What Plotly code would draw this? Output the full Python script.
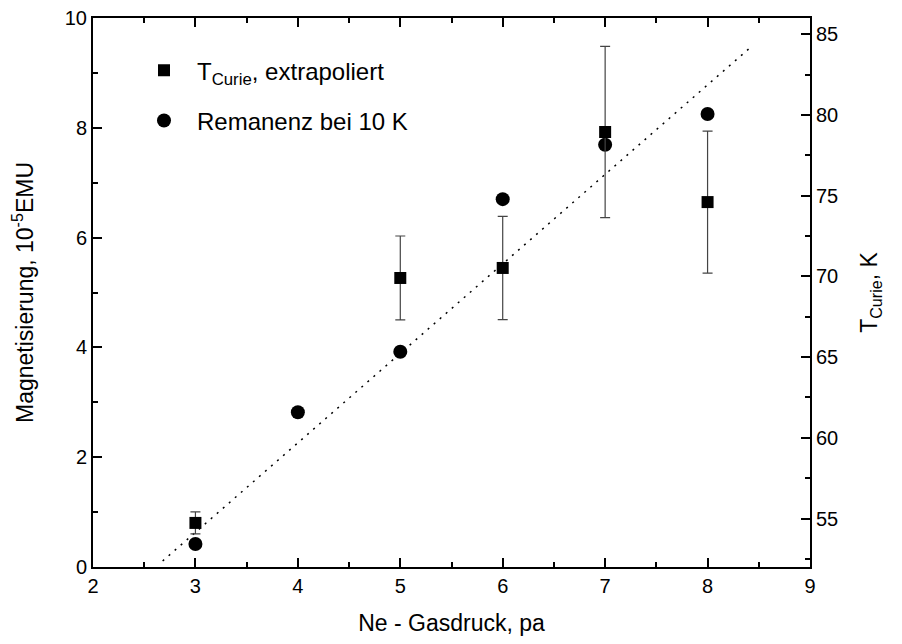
import plotly.graph_objects as go

# Ne-Gasdruck (pa)
druck_rem = [3, 4, 5, 6, 7, 8]
remanenz = [0.42, 2.82, 3.92, 6.70, 7.69, 8.25]  # 10^-5 EMU

druck_tc = [3, 5, 6, 7, 8]
t_curie = [54.73, 69.9, 70.52, 78.94, 74.6]  # K
t_curie_err = [0.68, 2.6, 3.2, 5.3, 4.4]

# Ausgleichsgerade (linke Achse)
fit_x = [2.68, 8.41]
fit_y = [0.11, 9.45]

FONT = "Liberation Sans, Arial, sans-serif"

fig = go.Figure()
fig.add_trace(go.Scatter(
    x=fit_x, y=fit_y, mode="lines",
    line=dict(color="black", width=1.5, dash="2px,6px"),
    showlegend=False, hoverinfo="skip",
))
fig.add_trace(go.Scatter(
    x=druck_tc, y=t_curie, yaxis="y2", mode="markers",
    marker=dict(symbol="square", size=12, color="black"),
    error_y=dict(type="data", array=t_curie_err, color="#444", thickness=1.2, width=5),
    name="T<sub>Curie</sub>, extrapoliert", legendgroup="a",
))
fig.add_trace(go.Scatter(
    x=druck_rem, y=remanenz, mode="markers",
    marker=dict(symbol="circle", size=14, color="black"),
    name="Remanenz bei 10 K", legendgroup="b",
))

axis_common = dict(
    showline=True, linecolor="black", linewidth=2,
    ticks="inside", ticklen=9, tickwidth=2, tickcolor="black",
    showgrid=False, zeroline=False, automargin=False,
    ticklabeloverflow="allow",
    tickfont=dict(size=20, color="black", family=FONT),
)

# die Seite hat 8px Body-Rand, daher 886x628
fig.update_layout(
    width=886, height=628,
    margin=dict(l=85, r=84, t=10, b=69),
    paper_bgcolor="white", plot_bgcolor="white",
    font=dict(family=FONT, color="black", size=20),
    xaxis=dict(
        **axis_common, range=[2, 9], dtick=1, mirror="ticks",
        minor=dict(dtick=0.5, ticks="inside", ticklen=5, tickwidth=2, tickcolor="black"),
        title=dict(text="Ne - Gasdruck, pa", font=dict(size=23), standoff=25),
    ),
    yaxis=dict(
        **axis_common, range=[0, 10], dtick=2,
        minor=dict(dtick=1, ticks="inside", ticklen=5, tickwidth=2, tickcolor="black"),
        title=dict(text="Magnetisierung, 10<sup>-5</sup>EMU", font=dict(size=23), standoff=26),
    ),
    yaxis2=dict(
        **axis_common, range=[52, 86], dtick=5, tick0=55,
        overlaying="y", side="right",
        minor=dict(dtick=2.5, ticks="inside", ticklen=5, tickwidth=2, tickcolor="black"),
        title=dict(text="T<sub>Curie</sub>, K", font=dict(size=23), standoff=24),
    ),
    legend=dict(
        x=0.053, y=0.945, xanchor="left", yanchor="top",
        bgcolor="rgba(0,0,0,0)", font=dict(size=24),
        traceorder="grouped", tracegroupgap=16, itemwidth=56,
    ),
)

fig.write_html("out.html")
